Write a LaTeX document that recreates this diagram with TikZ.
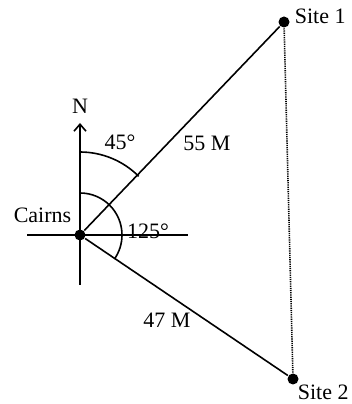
\documentclass[tikz,border=0pt]{standalone}
\usepackage{fontspec}
\setmainfont{Liberation Serif}
\usetikzlibrary{arrows.meta}
\begin{document}
\begin{tikzpicture}[x=1pt, y=1pt, line width=1.6pt, font=\fontsize{22}{25}\selectfont]
    \useasboundingbox (0,0) rectangle (352,404);
    \tikzset{dot/.style={circle, fill, inner sep=0pt, minimum size=11pt}}

    \node[dot] (cairns) at (80,169) {};
    \node[dot] (site1) at (284,382) {};
    \node[dot] (site2) at (293,25) {};

    \coordinate (ntip) at (80,281);
    \coordinate (south) at (80,119);
    \coordinate (west) at (27,169);
    \coordinate (east) at (188,169);

    \draw[-{Straight Barb[length=7pt,width=12pt]}] (south) -- (ntip);
    \draw (west) -- (east);
    \draw (cairns) -- (site1);
    \draw (cairns) -- (site2);
    \draw[dash pattern=on 1.2pt off 1pt] (site1) -- (site2);

    \draw (80,252) arc[start angle=90, end angle=45, radius=83];
    \draw (80,211) arc[start angle=90, end angle=-35, radius=42];

    \node (nlabel) at (80,298) {N};
    \node (ang45) at (120,262) {45°};
    \node (dist1) at (207,261) {55 M};
    \node (ang125) at (148,173) {125°};
    \node (dist2) at (167,84) {47 M};
    \node[left, inner sep=1pt] (cairnslabel) at (73,189) {Cairns};
    \node[right, inner sep=1pt] (site1label) at (293,388) {Site 1};
    \node[right, inner sep=1pt] (site2label) at (296,12) {Site 2};
\end{tikzpicture}
\end{document}
